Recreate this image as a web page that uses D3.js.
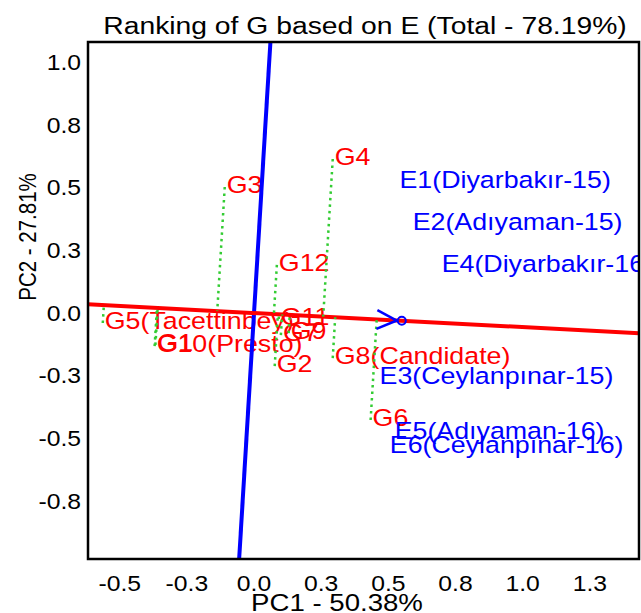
<!DOCTYPE html>
<html>
<head>
<meta charset="utf-8">
<script src="https://cdn.jsdelivr.net/npm/d3@7"></script>
<style>
  body { margin: 0; background: #fff; }
  svg { display: block; }
  text { font-family: "Liberation Sans", Arial, sans-serif; }
</style>
</head>
<body>
<div id="chart"></div>
<script>
// genotype scores (PC1, PC2)
var gLabels = ["G1", "G2", "G3", "G4", "G5(Tacettinbey)", "G6", "G7", "G8(Candidate)", "G9", "G10(Presto)", "G11", "G12"];
var gPC1 = [-0.367, 0.077, -0.109, 0.293, -0.563, 0.434, 0.100, 0.293, 0.129, -0.370, 0.092, 0.085];
var gPC2 = [-0.127, -0.212, 0.503, 0.615, -0.040, -0.427, -0.088, -0.180, -0.080, -0.132, -0.024, 0.192];

// environment scores
var eLabels = ["E1(Diyarbakır-15)", "E2(Adıyaman-15)", "E3(Ceylanpınar-15)", "E4(Diyarbakır-16)", "E5(Adıyaman-16)", "E6(Ceylanpınar-16)"];
var ePC1 = [0.534, 0.583, 0.460, 0.691, 0.516, 0.498];
var ePC2 = [0.523, 0.355, -0.259, 0.188, -0.479, -0.535];

// average environment
var avgEnv = [0.55, -0.031];

var xTicks = [-0.5, -0.25, 0, 0.25, 0.5, 0.75, 1.0, 1.25];
var xTickLabels = ["-0.5", "-0.3", "0.0", "0.3", "0.5", "0.8", "1.0", "1.3"];
var yTicks = [1.0, 0.75, 0.5, 0.25, 0, -0.25, -0.5, -0.75];
var yTickLabels = ["1.0", "0.8", "0.5", "0.3", "0.0", "-0.3", "-0.5", "-0.8"];

var W = 641, H = 613;
var pL = 88, pR = 639, pT = 42, pB = 559;
var SX = 1.15; // horizontal stretch of the text

var x = d3.scaleLinear().domain([-0.618, 1.433]).range([pL, pR]);
var y = d3.scaleLinear().domain([1.082, -0.982]).range([pT, pB]);

var svg = d3.select("#chart").append("svg")
  .attr("width", W).attr("height", H);

svg.append("defs").append("clipPath").attr("id", "plotclip")
  .append("rect").attr("x", pL).attr("y", pT)
  .attr("width", pR - pL).attr("height", pB - pT);

function stretchedText(g, px, py, str, size, color, anchor) {
  return g.append("text")
    .attr("transform", "translate(" + px + "," + py + ") scale(" + SX + ",1)")
    .attr("text-anchor", anchor || "start")
    .attr("font-size", size)
    .attr("fill", color)
    .text(str);
}

var plot = svg.append("g").attr("clip-path", "url(#plotclip)");

// labels
var labFont = 23.3;
gLabels.forEach(function(d, i) {
  stretchedText(plot, x(gPC1[i]) + 2, y(gPC2[i]) + 6, d, labFont, "#ff0000");
});
eLabels.forEach(function(d, i) {
  stretchedText(plot, x(ePC1[i]) + 2, y(ePC2[i]) + 6, d, labFont, "#0000ff");
});

// average environment axis
var aa = avgEnv[0] * avgEnv[0] + avgEnv[1] * avgEnv[1];
var ux = avgEnv[0], uy = avgEnv[1];

plot.append("line")
  .attr("x1", x(-3 * uy)).attr("y1", y(3 * ux))
  .attr("x2", x(3 * uy)).attr("y2", y(-3 * ux))
  .attr("stroke", "#0000ff").attr("stroke-width", 4);

plot.append("line")
  .attr("x1", x(-3 * ux)).attr("y1", y(-3 * uy))
  .attr("x2", x(3 * ux)).attr("y2", y(3 * uy))
  .attr("stroke", "#ff0000").attr("stroke-width", 4);

// projections of genotypes on the axis
gPC1.forEach(function(d, i) {
  var t = (d * ux + gPC2[i] * uy) / aa;
  plot.append("line")
    .attr("x1", x(d)).attr("y1", y(gPC2[i]))
    .attr("x2", x(t * ux)).attr("y2", y(t * uy))
    .attr("stroke", "#33cc33").attr("stroke-width", 2.5)
    .attr("stroke-dasharray", "2.5,4");
});

// arrow to the average environment
var tipX = x(avgEnv[0]), tipY = y(avgEnv[1]);
var ang = Math.atan2(tipY - y(0), tipX - x(0));
var tx = tipX - 5 * Math.cos(ang), ty = tipY - 5 * Math.sin(ang);
[-0.44, 0.44].forEach(function(a) {
  plot.append("line")
    .attr("x1", tx).attr("y1", ty)
    .attr("x2", tx - 22 * Math.cos(ang + a)).attr("y2", ty - 22 * Math.sin(ang + a))
    .attr("stroke", "#0000ff").attr("stroke-width", 2.5);
});
plot.append("circle")
  .attr("cx", tipX).attr("cy", tipY).attr("r", 4)
  .attr("fill", "none").attr("stroke", "#0000ff").attr("stroke-width", 2);

// frame
svg.append("rect")
  .attr("x", pL).attr("y", pT)
  .attr("width", pR - pL).attr("height", pB - pT)
  .attr("fill", "none").attr("stroke", "#000").attr("stroke-width", 2.5);

// tick labels
var tickFont = 21.5;
xTicks.forEach(function(d, i) {
  stretchedText(svg, x(d), 591, xTickLabels[i], tickFont, "#000", "middle");
});
yTicks.forEach(function(d, i) {
  stretchedText(svg, 81, y(d) + 7.7, yTickLabels[i], tickFont, "#000", "end");
});

// titles
stretchedText(svg, 365, 34, "Ranking of G based on E (Total - 78.19%)", 24.6, "#000", "middle");
stretchedText(svg, 337, 611, "PC1 - 50.38%", 24, "#000", "middle");
svg.append("text")
  .attr("transform", "translate(36,237) rotate(-90) scale(1," + SX + ")")
  .attr("text-anchor", "middle")
  .attr("font-size", 20.5)
  .attr("fill", "#000")
  .text("PC2 - 27.81%");
</script>
</body>
</html>
